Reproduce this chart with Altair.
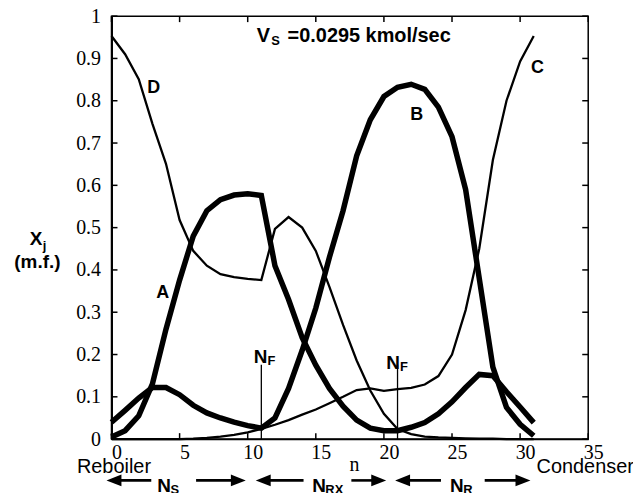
import altair as alt
import pandas as pd

# ---------------- data ----------------
stages = list(range(32))
comp_A = [0.005, 0.02, 0.055, 0.13, 0.26, 0.376, 0.48, 0.54, 0.566, 0.577, 0.58, 0.576,
          0.41, 0.33, 0.24, 0.175, 0.12, 0.078, 0.045, 0.026, 0.02, 0.02, 0.028, 0.039,
          0.06, 0.088, 0.122, 0.153, 0.15, 0.112, 0.076, 0.039]
comp_B = [0.04, 0.068, 0.097, 0.122, 0.122, 0.105, 0.08, 0.062, 0.05, 0.04, 0.032, 0.026,
          0.05, 0.12, 0.21, 0.31, 0.43, 0.54, 0.67, 0.755, 0.81, 0.832, 0.839, 0.827,
          0.785, 0.715, 0.59, 0.38, 0.17, 0.075, 0.035, 0.008]
comp_C = [0.0, 0.0, 0.0, 0.0, 0.0, 0.0, 0.001, 0.003, 0.006, 0.01, 0.016, 0.024,
          0.034, 0.045, 0.058, 0.07, 0.085, 0.1, 0.116, 0.12, 0.114, 0.118, 0.121, 0.129,
          0.149, 0.2, 0.305, 0.45, 0.66, 0.80, 0.893, 0.953]
comp_D = [0.953, 0.91, 0.851, 0.746, 0.651, 0.518, 0.445, 0.41, 0.39, 0.383, 0.379, 0.376,
          0.497, 0.525, 0.50, 0.445, 0.36, 0.27, 0.186, 0.115, 0.06, 0.024, 0.012, 0.006,
          0.004, 0.003, 0.002, 0.001, 0.001, 0.0, 0.0, 0.0]

thick_components = ["A", "B"]
thin_components = ["C", "D"]
x_ticks = [0, 5, 10, 15, 20, 25, 30, 35]
y_ticks = [0, 0.1, 0.2, 0.3, 0.4, 0.5, 0.6, 0.7, 0.8, 0.9, 1.0]
feed_stages = [11, 21]
feed_top = 0.176

# annotation texts (positions in data units)
curve_labels = ["A", "B", "C", "D"]
curve_label_x = [3.76, 22.4, 31.27, 3.1]
curve_label_y = [0.346, 0.766, 0.878, 0.829]


def long_table(names, series):
    rows = []
    for name, vals in zip(names, series):
        for s, v in zip(stages, vals):
            rows.append({"n": s, "x": v, "comp": name})
    return pd.DataFrame(rows)


df_thick = long_table(thick_components, [comp_A, comp_B])
df_thin = long_table(thin_components, [comp_C, comp_D])

W, H = 479, 425
xs = alt.Scale(domain=[0, 35], nice=False, zero=False)
ys = alt.Scale(domain=[0, 1], nice=False, zero=False)
xaxis = alt.Axis(values=x_ticks, ticks=False, grid=False, labelFlush=False, labelPadding=3,
                 labelOffset=5, labelFont="Liberation Serif", labelFontSize=20,
                 labelColor="black", domainColor="black", domainWidth=1.5, title=None)
yaxis = alt.Axis(values=y_ticks, ticks=False, grid=False, labelPadding=11,
                 labelFont="Liberation Serif", labelFontSize=20, labelColor="black",
                 domainColor="black", domainWidth=2, title=None,
                 labelExpr="datum.value == 0 ? '0' : (datum.value == 1 ? '1' : format(datum.value, '.1f'))")


def X(f):
    return alt.X(f, type="quantitative", scale=xs, axis=xaxis)


def Y(f):
    return alt.Y(f, type="quantitative", scale=ys, axis=yaxis)


lines_thick = alt.Chart(df_thick).mark_line(color="black", strokeWidth=5.5, strokeJoin="miter").encode(
    x=X("n"), y=Y("x"), detail="comp:N")
lines_thin = alt.Chart(df_thin).mark_line(color="black", strokeWidth=2.3, strokeJoin="miter").encode(
    x=X("n"), y=Y("x"), detail="comp:N")

nf_df = pd.DataFrame({"n": feed_stages, "y0": [0, 0], "y1": [feed_top, feed_top]})
nf_rules = alt.Chart(nf_df).mark_rule(color="black", strokeWidth=1.3).encode(
    x=X("n"), y=Y("y0"), y2="y1")

xt = pd.DataFrame({"t": x_ticks})
yt = pd.DataFrame({"t": y_ticks})
tick_bottom = alt.Chart(xt).mark_rule(color="black", strokeWidth=1.5).encode(
    x=X("t"), y=alt.value(H), y2=alt.value(H - 6))
tick_top = alt.Chart(xt).mark_rule(color="black", strokeWidth=1.5).encode(
    x=X("t"), y=alt.value(0), y2=alt.value(6))
tick_left = alt.Chart(yt).mark_rule(color="black", strokeWidth=1.5).encode(
    y=Y("t"), x=alt.value(0), x2=alt.value(6))
tick_right = alt.Chart(yt).mark_rule(color="black", strokeWidth=1.5).encode(
    y=Y("t"), x=alt.value(W), x2=alt.value(W - 6))


def txt(texts, xv, yv, size, bold=True, font="Liberation Sans", align="center"):
    d = pd.DataFrame({"t": texts, "px": xv, "py": yv})
    return alt.Chart(d).mark_text(font=font, fontSize=size, fontWeight="bold" if bold else "normal",
                                  align=align, baseline="middle", color="black").encode(
        x=X("px"), y=Y("py"), text="t:N")


labels = txt(curve_labels, curve_label_x, curve_label_y, 18)
title_v = txt(["V"], [10.67], [0.953], 20, align="left")
title_s = txt(["S"], [11.72], [0.941], 13, align="left")
title_rest = txt(["=0.0295 kmol/sec"], [12.93], [0.953], 20, align="left")
nf_n = txt(["N", "N"], [10.45, 20.18], [0.195, 0.181], 19, align="left")
nf_f = txt(["F", "F"], [11.45, 21.18], [0.184, 0.170], 13, align="left")
ytitle_x = txt(["X"], [-6.0], [0.472], 19, align="left")
ytitle_j = txt(["j"], [-5.05], [0.457], 13, align="left")
ytitle_mf = txt(["(m.f.)"], [-5.44], [0.419], 19)
reb = txt(["Reboiler"], [0.18], [-0.066], 20, bold=False)
cond = txt(["Condenser"], [34.78], [-0.066], 20, bold=False)
n_lbl = txt(["n"], [17.83], [-0.062], 20, bold=False, font="Liberation Serif")
sec_n = txt(["N", "N", "N"], [3.35, 14.73, 24.85], [-0.112, -0.112, -0.112], 19, align="left")
sec_sub = txt(["S", "RX", "R"], [4.33, 15.70, 25.82], [-0.121, -0.121, -0.121], 13, align="left")

arrow_y = -0.0976
arr_df = pd.DataFrame({
    "a": [0.2, 6.21, 11.15, 17.61, 21.38, 27.40],
    "b": [2.92, 9.3, 14.10, 19.6, 24.19, 30.2],
    "y": [arrow_y] * 6,
})
arr_lines = alt.Chart(arr_df).mark_rule(color="black", strokeWidth=2.6).encode(
    x=X("a"), x2="b", y=Y("y"))
head_left = pd.DataFrame({"px": [0.18, 11.14, 21.37], "py": [arrow_y] * 3})
head_right = pd.DataFrame({"px": [9.31, 19.62, 30.21], "py": [arrow_y] * 3})
hl = alt.Chart(head_left).mark_point(shape="M -1,0 L 1,-0.8 L 1,0.8 Z", filled=True, size=225,
                                     color="black", opacity=1).encode(x=X("px"), y=Y("py"))
hr = alt.Chart(head_right).mark_point(shape="M 1,0 L -1,-0.8 L -1,0.8 Z", filled=True, size=225,
                                      color="black", opacity=1).encode(x=X("px"), y=Y("py"))

chart = alt.layer(
    tick_bottom, tick_top, tick_left, tick_right,
    lines_thin, lines_thick, nf_rules, labels, title_v, title_s, title_rest, nf_n, nf_f,
    ytitle_x, ytitle_j, ytitle_mf, reb, cond, n_lbl, sec_n, sec_sub,
    arr_lines, hl, hr,
).properties(
    width=W, height=H,
    padding={"left": 104, "top": 7, "right": 45, "bottom": 62},
    autosize=alt.AutoSizeParams(type="none"),
    background="white",
).configure_view(stroke="black", strokeWidth=1.5)

chart.save("out.html", embed_options={"renderer": "svg", "actions": False})
